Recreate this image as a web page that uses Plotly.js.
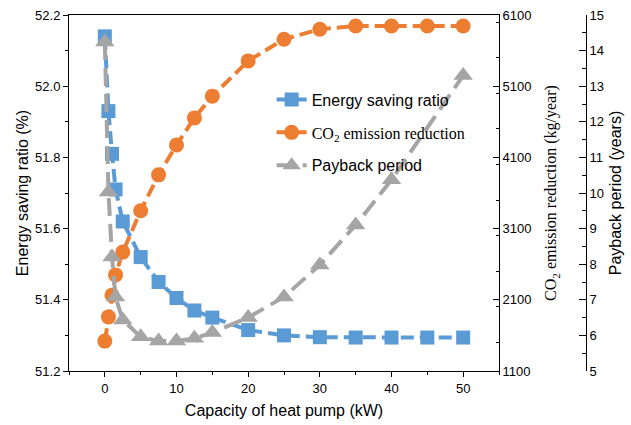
<!DOCTYPE html>
<html><head><meta charset="utf-8">
<script src="https://cdn.plot.ly/plotly-3.0.1.min.js"></script>
<style>html,body{margin:0;padding:0;background:#fff}</style>
</head><body><div id="chart" style="width:631px;height:425px"></div>
<script>
const capacity = [0,0.5,1,1.5,2.5,5,7.5,10,12.5,15,20,25,30,35,40,45,50];
const energySaving = [52.14,51.93,51.81,51.71,51.62,51.52,51.45,51.405,51.37,51.35,51.315,51.30,51.295,51.294,51.294,51.294,51.294];
const co2Reduction = [1520,1860,2165,2450,2770,3350,3855,4275,4655,4960,5455,5760,5900,5945,5945,5945,5945];
const paybackCapacity = [0,0.5,1,1.5,2.5,5,7.5,10,12.5,15,20,25,30,35,40,50];
const payback = [14.24,10.03,8.2,7.08,6.43,5.96,5.84,5.84,5.92,6.08,6.5,7.08,7.98,9.1,10.37,13.3];
const seriesNames = ['Energy saving ratio', '<span style="font-family:\'Liberation Serif\',serif">CO<sub>2</sub> emission reduction</span>', 'Payback period'];

const SANS = "'Liberation Sans', Arial, sans-serif";
const SERIF = "'Liberation Serif', 'Times New Roman', serif";
const blue = '#5B9BD5', orange = '#ED7D31', gray = '#A5A5A5';

const traces = [
  {x: capacity, y: energySaving, name: seriesNames[0], type: 'scatter', mode: 'lines+markers', yaxis: 'y', legendgroup: 'a',
   line: {color: blue, width: 4, dash: '13px,6px'}, marker: {symbol: 'square', size: 14, color: blue}},
  {x: capacity, y: co2Reduction, name: seriesNames[1], type: 'scatter', mode: 'lines+markers', yaxis: 'y2', legendgroup: 'b',
   line: {color: orange, width: 4, dash: '13px,6px'}, marker: {symbol: 'circle', size: 15, color: orange}},
  {x: paybackCapacity, y: payback, name: seriesNames[2], type: 'scatter', mode: 'lines+markers', yaxis: 'y3', legendgroup: 'c',
   line: {color: gray, width: 4, dash: '18px,8px'}, marker: {symbol: 'triangle-up', size: 17, color: gray}}
];

const axisCommon = {showline: true, linecolor: '#000', linewidth: 1, tickcolor: '#000', tickwidth: 1,
  showgrid: false, zeroline: false, tickfont: {family: SANS, size: 13, color: '#000'}};

const xDomainEnd = 430 / 517;

const layout = {
  width: 631, height: 425,
  margin: {l: 69, r: 45, t: 15, b: 54},
  paper_bgcolor: '#fff', plot_bgcolor: 'rgba(0,0,0,0)',
  showlegend: true,
  legend: {x: 0.392, y: 0.81, xanchor: 'left', yanchor: 'top', bgcolor: 'rgba(0,0,0,0)',
    font: {family: SANS, size: 16, color: '#000'}, traceorder: 'grouped', tracegroupgap: 9},
  xaxis: Object.assign({}, axisCommon, {domain: [0, xDomainEnd], range: [-5, 55], dtick: 10, tick0: 0, ticks: 'outside', ticklen: 5,
    mirror: true, minor: {dtick: 5, ticks: 'outside', ticklen: 3, tickcolor: '#000'},
    title: {text: 'Capacity of heat pump (kW)', font: {family: SANS, size: 16, color: '#000'}, standoff: 10}}),
  yaxis: Object.assign({}, axisCommon, {range: [51.2, 52.2], dtick: 0.2, tick0: 51.2, tickformat: '.1f', ticks: 'outside', ticklen: 5,
    minor: {dtick: 0.1, ticks: 'outside', ticklen: 3, tickcolor: '#000'},
    title: {text: 'Energy saving ratio (%)', font: {family: SANS, size: 16, color: '#000'}, standoff: 2}}),
  yaxis2: Object.assign({}, axisCommon, {overlaying: 'y', side: 'right', anchor: 'x', range: [1100, 6100], dtick: 1000, tick0: 1100,
    ticks: 'inside', ticklen: 6, minor: {dtick: 500, ticks: 'inside', ticklen: 3, tickcolor: '#000'},
    title: {text: 'CO<sub>2</sub> emission reduction (kg/year)', font: {family: SERIF, size: 16, color: '#000'}, standoff: 14}}),
  yaxis3: Object.assign({}, axisCommon, {overlaying: 'y', side: 'right', anchor: 'free', position: 1, range: [5, 15], dtick: 1, tick0: 5,
    ticks: 'inside', ticklen: 7, minor: {dtick: 0.5, ticks: 'inside', ticklen: 4, tickcolor: '#000'},
    title: {text: 'Payback period (years)', font: {family: SANS, size: 16, color: '#000'}, standoff: 6}})
};

Plotly.newPlot('chart', traces, layout, {displayModeBar: false, staticPlot: true});
</script></body></html>
